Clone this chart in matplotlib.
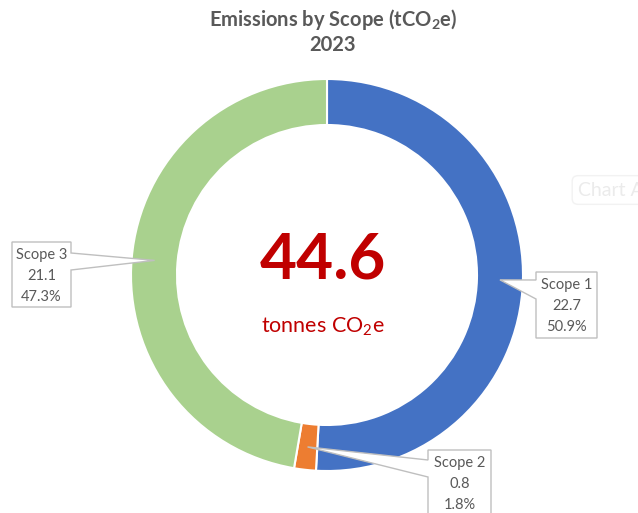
import matplotlib.pyplot as plt
import numpy as np
from matplotlib.patches import Polygon

plt.rcParams['font.family'] = ['Lato', 'DejaVu Sans']
plt.rcParams['mathtext.default'] = 'regular'

# Daten
scopes = ['Scope 1', 'Scope 2', 'Scope 3']
werte = [22.7, 0.8, 21.1]
farben = ['#4472C4', '#ED7D31', '#A9D18E']
total = sum(werte)

W, H = 638, 513
fig = plt.figure(figsize=(W / 100, H / 100), dpi=100)
ax = fig.add_axes([0, 0, 1, 1])

# Ring (Pixelkoordinaten, y nach oben)
cx, cy, R, breite = 327, H - 275, 196, 46
ax.pie(werte, colors=farben, startangle=90, counterclock=False,
       center=(cx, cy), radius=R,
       wedgeprops=dict(width=breite, edgecolor='white', linewidth=1.5))
ax.set_xlim(0, W)
ax.set_ylim(0, H)
ax.set_aspect('equal')
ax.axis('off')

# Titel
grau = '#595959'
ax.text(333, H - 20, 'Emissions by Scope (tCO$_2$e)', ha='center', va='center',
        fontsize=14.5, fontweight='bold', color=grau)
ax.text(333, H - 45, '2023', ha='center', va='center',
        fontsize=14.5, fontweight='bold', color=grau)

# Mitte
ax.text(323, H - 260, '{:.1f}'.format(total), ha='center', va='center',
        fontsize=46, fontweight='bold', color='#C00000')
ax.text(323, H - 327, 'tonnes CO$_2$e', ha='center', va='center',
        fontsize=15.5, color='#C00000')

# Callouts: Box (links, oben, rechts, unten in Bildpixeln), Seite des Zeigers
boxen = [
    (536, 272, 597, 338, 'left', 280, 299),
    (428, 450, 491, 522, 'left', 460, 477),
    (12, 242, 71, 307, 'right', 253, 270),
]
anteile = np.cumsum([0] + werte) / total
for i, name in enumerate(scopes):
    mitte = (anteile[i] + anteile[i + 1]) / 2
    winkel = np.deg2rad(90 - 360 * mitte)
    r = R - breite / 2
    px, py = cx + r * np.cos(winkel), cy + r * np.sin(winkel)
    x0, y0, x1, y1, seite, w0, w1 = boxen[i]
    yt, yb, yw0, yw1 = H - y0, H - y1, H - w0, H - w1
    if seite == 'left':
        pts = [(x0, yt), (x1, yt), (x1, yb), (x0, yb), (x0, yw1), (px, py), (x0, yw0)]
    else:
        pts = [(x0, yt), (x1, yt), (x1, yw0), (px, py), (x1, yw1), (x1, yb), (x0, yb)]
    ax.add_patch(Polygon(pts, closed=True, facecolor='white', edgecolor='#BFBFBF',
                         linewidth=1, zorder=5))
    xm = (x0 + x1) / 2
    zeilen = [name, '{:.1f}'.format(werte[i]), '{:.1f}%'.format(100 * werte[i] / total)]
    for k, z in enumerate(zeilen):
        ax.text(xm, H - (y0 + 13 + 21 * k), z, ha='center', va='center',
                fontsize=10.5, color=grau, zorder=6)

# blasser Tooltip rechts (im Original am Rand abgeschnitten)
ax.text(578, H - 190, 'Chart Area', ha='left', va='center', fontsize=14,
        color='#EBEBEB',
        bbox=dict(boxstyle='round,pad=0.3', facecolor='white', edgecolor='#F2F2F2'))

fig.savefig('out.png', dpi=100)
